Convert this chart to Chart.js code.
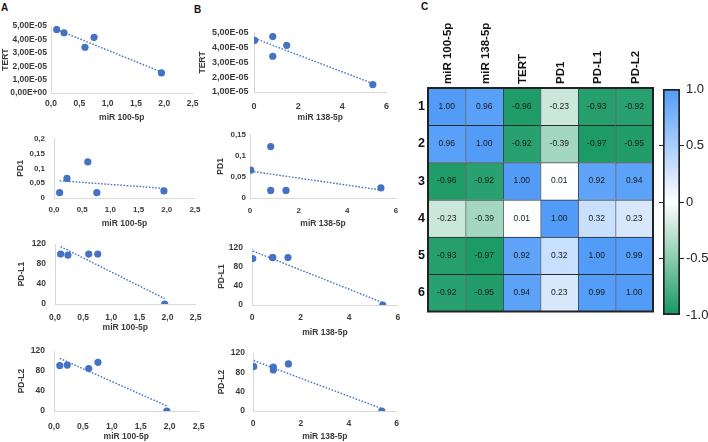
<!DOCTYPE html>
<html>
<head>
<meta charset="utf-8">
<script src="https://cdn.jsdelivr.net/npm/chart.js@4.4.1/dist/chart.umd.min.js"></script>
<style>
body { margin: 0; width: 708px; height: 442px; background: #fff; position: relative; overflow: hidden; font-family: 'Liberation Sans', Arial, sans-serif; }
canvas { position: absolute; }
.tag { position: absolute; font-weight: bold; font-size: 10px; color: #111; }
</style>
</head>
<body>
<div class="tag" style="left:1px;top:2px">A</div>
<div class="tag" style="left:194px;top:4px">B</div>
<div class="tag" style="left:421px;top:1px">C</div>
<script>
// sample values
var miR100 = [0.10, 0.23, 0.60, 0.76, 1.95];
var miR138 = [0.85, 0.03, 0.85, 1.48, 5.38];
var tert = [4.75e-5, 4.50e-5, 3.42e-5, 4.16e-5, 1.50e-5];
var pd1 = [0.018, 0.066, 0.122, 0.018, 0.024];
var pdl1 = [100, 98, 100, 100, 0];
var pdl2 = [91, 92, 85, 97.5, 0];

// correlation matrix (panel C)
var corrCols = ['miR 100-5p', 'miR 138-5p', 'TERT', 'PD1', 'PD-L1', 'PD-L2'];
var corrRows = ['1', '2', '3', '4', '5', '6'];
var corr = [
  [1.00, 0.96, -0.96, -0.23, -0.93, -0.92],
  [0.96, 1.00, -0.92, -0.39, -0.97, -0.95],
  [-0.96, -0.92, 1.00, 0.01, 0.92, 0.94],
  [-0.23, -0.39, 0.01, 1.00, 0.32, 0.23],
  [-0.93, -0.97, 0.92, 0.32, 1.00, 0.99],
  [-0.92, -0.95, 0.94, 0.23, 0.99, 1.00]
];
var barRange = [-1, 1];

var fam = "'Liberation Sans', Arial, sans-serif";
var ink = '#3b3b3b';
var dotBlue = '#4472C4';
Chart.defaults.font.family = fam;

function fmtSci(v) {
  if (v === 0) return '0,00E+00';
  var p = v.toExponential(2).split('e');
  var e = parseInt(p[1], 10);
  return p[0].replace('.', ',') + 'E' + (e < 0 ? '-' : '+') + (Math.abs(e) < 10 ? '0' : '') + Math.abs(e);
}
function fmtComma1(v) { return v.toFixed(1).replace('.', ','); }
function fmtPlain(v) { return String(+v.toFixed(2)).replace('.', ','); }

function heatColor(v) {
  var end = v >= 0 ? [82, 156, 248] : [22, 152, 98];
  var t = Math.min(Math.abs(v), 1);
  var c = end.map(function (e) { return Math.round(255 + (e - 255) * t); });
  return 'rgb(' + c.join(',') + ')';
}

function fitLine(xs, ys) {
  var n = xs.length, sx = 0, sy = 0, sxx = 0, sxy = 0;
  for (var i = 0; i < n; i++) {
    sx += xs[i]; sy += ys[i]; sxx += xs[i] * xs[i]; sxy += xs[i] * ys[i];
  }
  var m = (n * sxy - sx * sy) / (n * sxx - sx * sx);
  var b = (sy - m * sx) / n;
  var lo = Math.min.apply(null, xs), hi = Math.max.apply(null, xs);
  return [{x: lo, y: m * lo + b}, {x: hi, y: m * hi + b}];
}

function addCanvas(left, top, w, h) {
  var c = document.createElement('canvas');
  c.width = w; c.height = h;
  c.style.left = left + 'px'; c.style.top = top + 'px';
  c.style.width = w + 'px'; c.style.height = h + 'px';
  document.body.appendChild(c);
  return c;
}

// layout of each small scatter: area = [left, top, right, bottom] of the plot box
var panels = [
  {xs: miR100, ys: tert, xName: 'miR 100-5p', yName: 'TERT', xMax: 2.5, xStep: 0.5, yMin: 0, yMax: 5e-5, yStep: 1e-5, xFmt: fmtComma1, yFmt: fmtSci,
   area: [51, 25, 194, 93], yTitleAt: 6, xTitleAt: 117.5, xPad: 5.5, yPad: 4, tick: 8.5},
  {xs: miR100, ys: pd1, xName: 'miR 100-5p', yName: 'PD1', xMax: 2.5, xStep: 0.5, yMin: 0, yMax: 0.2, yStep: 0.05, xFmt: fmtComma1, yFmt: fmtPlain,
   area: [54, 133, 197, 198], yTitleAt: 20.7, xTitleAt: 224, xPad: 6.5, yPad: 9, tick: 8},
  {xs: miR100, ys: pdl1, xName: 'miR 100-5p', yName: 'PD-L1', xMax: 2.5, xStep: 0.5, yMin: 0, yMax: 120, yStep: 40, xFmt: fmtComma1, yFmt: fmtPlain,
   area: [55, 238, 200, 304], yTitleAt: 21.7, xTitleAt: 328.3, xPad: 8.5, yPad: 9, tick: 8.5},
  {xs: miR100, ys: pdl2, xName: 'miR 100-5p', yName: 'PD-L2', xMax: 2.5, xStep: 0.5, yMin: 0, yMax: 120, yStep: 40, xFmt: fmtComma1, yFmt: fmtPlain,
   area: [54, 345, 205, 411], yTitleAt: 21.7, xTitleAt: 437.3, xPad: 10.5, yPad: 9, tick: 8.5},
  {xs: miR138, ys: tert, xName: 'miR 138-5p', yName: 'TERT', xMax: 6, xStep: 2, yMin: 1e-5, yMax: 5e-5, yStep: 1e-5, xFmt: fmtPlain, yFmt: fmtSci,
   area: [254, 30, 388, 92], yTitleAt: 203.3, xTitleAt: 118.3, xPad: 9, yPad: 5.5, tick: 9},
  {xs: miR138, ys: pd1, xName: 'miR 138-5p', yName: 'PD1', xMax: 6, xStep: 2, yMin: 0, yMax: 0.15, yStep: 0.05, xFmt: fmtPlain, yFmt: fmtPlain,
   area: [250, 134, 396, 198], yTitleAt: 221, xTitleAt: 224, xPad: 7.5, yPad: 4, tick: 8},
  {xs: miR138, ys: pdl1, xName: 'miR 138-5p', yName: 'PD-L1', xMax: 6, xStep: 2, yMin: 0, yMax: 120, yStep: 40, xFmt: fmtPlain, yFmt: fmtPlain,
   area: [252, 242, 398, 305], yTitleAt: 221.7, xTitleAt: 332.7, xPad: 7.8, yPad: 9, tick: 8.5},
  {xs: miR138, ys: pdl2, xName: 'miR 138-5p', yName: 'PD-L2', xMax: 6, xStep: 2, yMin: 0, yMax: 120, yStep: 40, xFmt: fmtPlain, yFmt: fmtPlain,
   area: [253, 348, 397, 411], yTitleAt: 221.7, xTitleAt: 437.3, xPad: 8, yPad: 8, tick: 8.5}
];

var titleSize = 8.5;
var halfTitle = titleSize * 1.2 / 2;

panels.forEach(function (p) {
  var padTop = 8, padRight = 10;
  var left = Math.round(p.yTitleAt - halfTitle);
  var top = p.area[1] - padTop;
  var bottom = Math.round(p.xTitleAt + halfTitle);
  var w = p.area[2] + padRight - left;
  var h = bottom - top;
  var yW = p.area[0] - left;
  var xH = bottom - p.area[3];
  var points = p.xs.map(function (x, i) { return {x: x, y: p.ys[i]}; });
  var cv = addCanvas(left, top, w, h);
  new Chart(cv.getContext('2d'), {
    type: 'scatter',
    data: {
      datasets: [
        {data: points, backgroundColor: dotBlue, borderWidth: 0, pointRadius: 3.6, pointHoverRadius: 3.6},
        {type: 'line', data: fitLine(p.xs, p.ys), borderColor: dotBlue, borderWidth: 1.4, borderDash: [1.6, 1.6], pointRadius: 0, fill: false}
      ]
    },
    options: {
      responsive: false,
      animation: false,
      layout: {padding: {top: padTop, right: padRight, left: 0, bottom: 0}},
      plugins: {legend: {display: false}, tooltip: {enabled: false}},
      scales: {
        x: {
          type: 'linear', min: 0, max: p.xMax,
          ticks: {stepSize: p.xStep, callback: function (v) { return p.xFmt(v); }, font: {size: p.tick, weight: 'bold'}, color: ink, padding: p.xPad, maxRotation: 0},
          grid: {display: false, drawTicks: false},
          border: {display: true, color: '#d9d9d9'},
          title: {display: true, text: p.xName, font: {size: titleSize, weight: 'bold'}, color: ink, padding: 0},
          afterFit: function (s) { s.height = xH; }
        },
        y: {
          min: p.yMin, max: p.yMax,
          ticks: {stepSize: p.yStep, callback: function (v) { return p.yFmt(v); }, font: {size: p.tick, weight: 'bold'}, color: ink, padding: p.yPad},
          grid: {display: false, drawTicks: false},
          border: {display: true, color: '#d9d9d9'},
          title: {display: true, text: p.yName, font: {size: titleSize, weight: 'bold'}, color: ink, padding: 0},
          afterFit: function (s) { s.width = yW; }
        }
      }
    }
  });
});

// panel C heatmap: one stacked horizontal bar per column
var cellText = {
  id: 'cellText',
  afterDatasetsDraw: function (chart) {
    var ctx = chart.ctx;
    ctx.save();
    ctx.font = '8.5px ' + fam;
    ctx.fillStyle = '#1a1a1a';
    ctx.textAlign = 'center';
    ctx.textBaseline = 'middle';
    chart.data.datasets.forEach(function (ds, j) {
      chart.getDatasetMeta(j).data.forEach(function (bar, i) {
        ctx.fillText(corr[i][j].toFixed(2), (bar.x + bar.base) / 2, bar.y);
      });
    });
    var a = chart.chartArea;
    ctx.lineWidth = 2;
    ctx.strokeStyle = '#222';
    ctx.strokeRect(a.left, a.top, a.right - a.left, a.bottom - a.top);
    ctx.restore();
  }
};

var heatSets = corrCols.map(function (name, j) {
  return {
    label: name,
    data: corrRows.map(function () { return 1; }),
    backgroundColor: corr.map(function (row) { return heatColor(row[j]); }),
    borderColor: '#2b2b2b',
    borderWidth: {left: 1, top: 1, right: 0, bottom: 0},
    borderSkipped: false,
    barPercentage: 1,
    categoryPercentage: 1
  };
});

var heatCanvas = addCanvas(398, 0, 262, 322);
new Chart(heatCanvas.getContext('2d'), {
  type: 'bar',
  data: {labels: corrRows, datasets: heatSets},
  plugins: [cellText],
  options: {
    indexAxis: 'y',
    responsive: false,
    animation: false,
    layout: {padding: {top: 0, right: 7, bottom: 8, left: 0}},
    plugins: {legend: {display: false}, tooltip: {enabled: false}},
    scales: {
      x: {
        type: 'linear', position: 'top', stacked: true, min: 0, max: corrCols.length,
        afterBuildTicks: function (s) { s.ticks = corrCols.map(function (c, i) { return {value: i + 0.5}; }); },
        ticks: {autoSkip: false, minRotation: 90, maxRotation: 90, padding: 4, labelOffset: 15, color: '#111', font: {size: 11.5, weight: 'bold'},
          callback: function (v, i) { return corrCols[i]; }},
        grid: {display: false, drawTicks: false},
        border: {display: false},
        afterFit: function (s) { s.height = 88; }
      },
      y: {
        stacked: true,
        ticks: {padding: 3, color: '#111', font: {size: 12.5, weight: 'bold'}},
        grid: {display: false, drawTicks: false},
        border: {display: false},
        afterFit: function (s) { s.width = 30; }
      }
    }
  }
});

// colour bar
function barTickColor(c) {
  return Math.abs(c.tick.value) === 1 ? 'rgba(0,0,0,0)' : '#222';
}
var barCanvas = addCanvas(655, 78, 53, 250);
new Chart(barCanvas.getContext('2d'), {
  type: 'bar',
  data: {
    labels: [''],
    datasets: [{
      data: [barRange],
      backgroundColor: function (c) {
        var a = c.chart.chartArea;
        if (!a) return '#fff';
        var g = c.chart.ctx.createLinearGradient(0, a.bottom, 0, a.top);
        g.addColorStop(0, heatColor(-1));
        g.addColorStop(0.5, '#ffffff');
        g.addColorStop(1, heatColor(1));
        return g;
      },
      borderColor: '#222',
      borderWidth: 2,
      borderSkipped: false,
      barPercentage: 1,
      categoryPercentage: 1
    }]
  },
  options: {
    responsive: false,
    animation: false,
    layout: {padding: {top: 11, left: 4, bottom: 13, right: 0}},
    plugins: {legend: {display: false}, tooltip: {enabled: false}},
    scales: {
      x: {display: false},
      y: {
        position: 'right', min: barRange[0], max: barRange[1],
        ticks: {stepSize: 0.5, padding: 2, color: '#222', font: {size: 13},
          callback: function (v) { return v === 0 ? '0' : v.toFixed(1); }},
        grid: {drawOnChartArea: false, drawTicks: true, tickLength: 4, color: barTickColor},
        border: {display: false},
        afterFit: function (s) { s.width = 28; }
      },
      yl: {
        position: 'left', min: barRange[0], max: barRange[1],
        ticks: {stepSize: 0.5, display: false},
        grid: {drawOnChartArea: false, drawTicks: true, tickLength: 4, color: barTickColor},
        border: {display: false},
        afterFit: function (s) { s.width = 4; }
      }
    }
  }
});
</script>
</body>
</html>
